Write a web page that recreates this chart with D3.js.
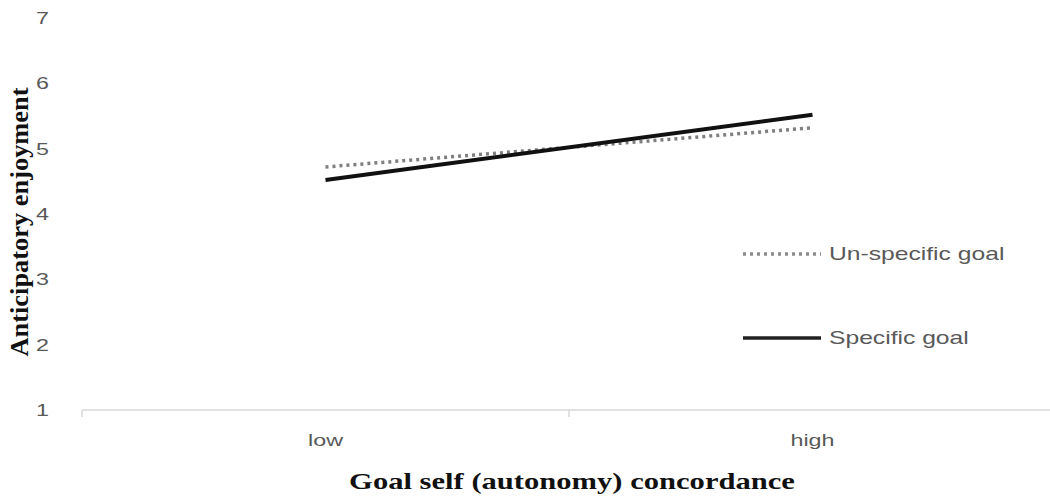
<!DOCTYPE html>
<html><head><meta charset="utf-8">
<script src="https://cdn.jsdelivr.net/npm/d3@7"></script>
<style>body{margin:0;background:#fff;}svg{display:block;}</style>
</head><body>
<svg id="c" width="1050" height="502"></svg>
<script>
const categories = ["low", "high"];
const seriesNames = ["Un-specific goal", "Specific goal"];
const unspecific = [4.72, 5.32];
const specific = [4.52, 5.52];
const yTicks = [1, 2, 3, 4, 5, 6, 7];

const svg = d3.select("#c");
const x = d3.scaleBand().domain(categories).range([82, 1056]);
const y = d3.scaleLinear().domain([1, 7]).range([410, 18]);
const SX = 1.37; // horizontal stretch of the original picture's text

function stretchedText(px, py, txt, opts) {
  const g = svg.append("g").attr("transform", `translate(${px},${py}) scale(${opts.sx || SX},1)`);
  return g.append("text").attr("x", 0).attr("y", 0).attr("dy", opts.dy || "0.35em")
    .attr("text-anchor", opts.anchor || "start")
    .attr("font-family", opts.family || "Liberation Sans, sans-serif")
    .attr("font-weight", opts.weight || "normal")
    .attr("font-size", opts.size || 17).attr("fill", opts.fill || "#595959").text(txt);
}

// x axis line + ticks at band boundaries
svg.append("line").attr("x1", 82).attr("x2", 1050).attr("y1", y(1)).attr("y2", y(1))
  .attr("stroke", "#d9d9d9").attr("stroke-width", 1.5);
[x.range()[0], x(categories[1])].forEach(b => {
  svg.append("line").attr("x1", b).attr("x2", b).attr("y1", y(1)).attr("y2", y(1) + 7)
    .attr("stroke", "#d9d9d9").attr("stroke-width", 1.5);
});
categories.forEach(c => stretchedText(x(c) + x.bandwidth() / 2, 440, c, {anchor: "middle"}));

// y tick labels
yTicks.forEach(t => stretchedText(49, y(t), t, {anchor: "end"}));

// lines
const line = d3.line().x((d, i) => x(categories[i]) + x.bandwidth() / 2).y(d => y(d));
svg.append("path").datum(unspecific).attr("d", line).attr("fill", "none")
  .attr("stroke", "#7f7f7f").attr("stroke-width", 3.5).attr("stroke-dasharray", "3,4");
svg.append("path").datum(specific).attr("d", line).attr("fill", "none")
  .attr("stroke", "#111").attr("stroke-width", 4);

// legend
const leg = [{name: seriesNames[0], yy: 254, dash: "3,4", col: "#8c8c8c", w: 3.5},
             {name: seriesNames[1], yy: 338, dash: null, col: "#222", w: 3.5}];
leg.forEach(l => {
  svg.append("line").attr("x1", 743).attr("x2", 821).attr("y1", l.yy).attr("y2", l.yy)
    .attr("stroke", l.col).attr("stroke-width", l.w).attr("stroke-dasharray", l.dash);
  stretchedText(829, l.yy, l.name, {size: 18});
});

// axis titles
svg.append("g").attr("transform", `translate(28,222) scale(1.05,1.1) rotate(-90)`)
  .append("text").attr("text-anchor", "middle").attr("font-family", "Liberation Serif, serif")
  .attr("font-weight", "bold").attr("font-size", 24).attr("fill", "#111")
  .text("Anticipatory enjoyment");
stretchedText(572, 481, "Goal self (autonomy) concordance",
  {anchor: "middle", family: "Liberation Serif, serif", weight: "bold", size: 23, fill: "#111", sx: 1.33});
</script>
</body></html>
